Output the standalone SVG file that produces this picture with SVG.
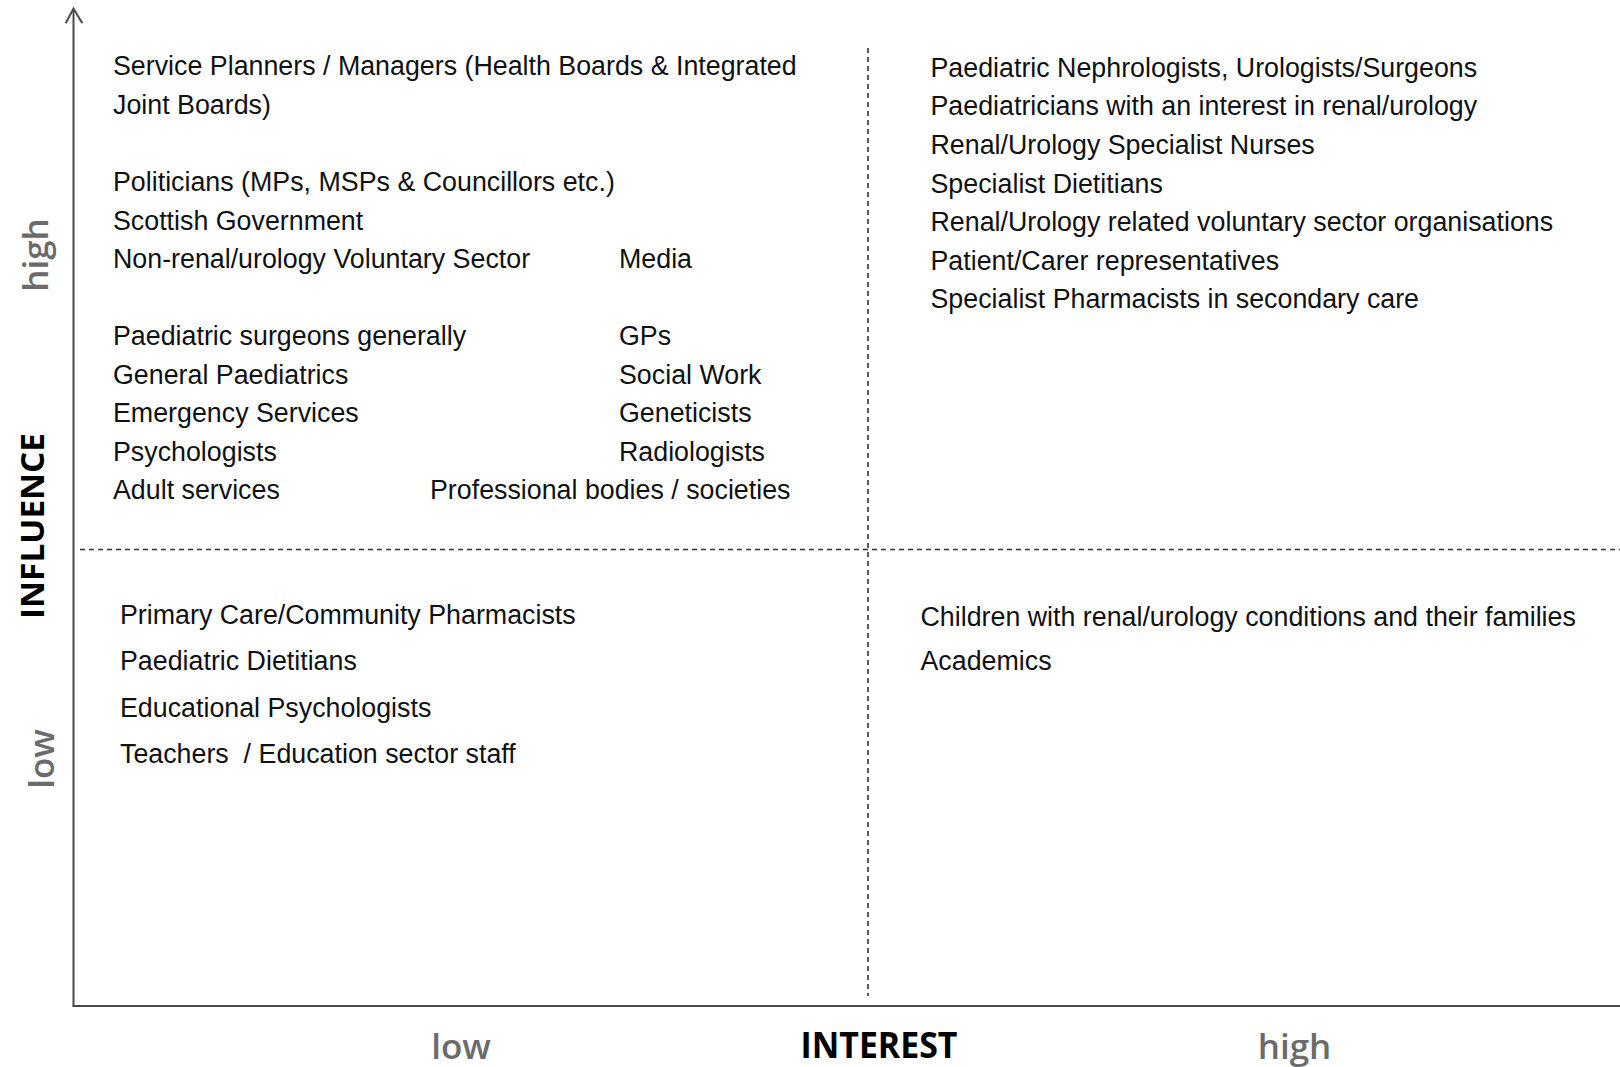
<svg xmlns="http://www.w3.org/2000/svg" width="1620" height="1067" viewBox="0 0 1620 1067">
  <style>
    .item { font-family: "Liberation Sans", Arial, sans-serif; font-size: 26.8px; fill: #111; }
    .tick { font-family: "Open Sans", "DejaVu Sans", sans-serif; font-size: 35px; font-weight: 600; fill: #6b6b6b; text-anchor: middle; }
    .title { font-family: "Open Sans", "DejaVu Sans", sans-serif; font-weight: 700; fill: #000; text-anchor: middle; }
    .axis { stroke: #4a4a4a; stroke-width: 2; fill: none; }
    .divider { stroke: #333; stroke-width: 1.6; stroke-dasharray: 5 4; fill: none; }
  </style>
  <rect width="1620" height="1067" fill="#fff"/>

  <!-- axes and quadrant dividers -->
  <g id="connectors">
    <line class="axis" x1="73.5" y1="9" x2="73.5" y2="1006"/>
    <polyline class="axis" stroke-width="1.6" points="65.7,23.3 73.5,8.5 82.3,23.3"/>
    <line class="axis" x1="72.5" y1="1006" x2="1620" y2="1006"/>
    <line class="divider" x1="868" y1="48" x2="868" y2="996"/>
    <line class="divider" x1="80" y1="549.5" x2="1620" y2="549.5"/>
  </g>

  <!-- axis labels -->
  <g id="axis-labels">
    <text class="tick" transform="translate(47.5,255) rotate(-90)">high</text>
    <text class="title" font-size="33" textLength="186" lengthAdjust="spacingAndGlyphs" transform="translate(44.3,526) rotate(-90)">INFLUENCE</text>
    <text class="tick" transform="translate(54,759) rotate(-90)">low</text>
    <text class="tick" x="461" y="1059">low</text>
    <text class="title" font-size="36" x="879" y="1058.3" textLength="157" lengthAdjust="spacingAndGlyphs">INTEREST</text>
    <text class="tick" x="1294.5" y="1058.5">high</text>
  </g>

  <!-- high influence, low interest -->
  <g id="quadrant-high-influence-low-interest">
    <text class="item" x="113" y="75">Service Planners / Managers (Health Boards &amp; Integrated</text>
    <text class="item" x="113" y="113.5">Joint Boards)</text>
    <text class="item" x="113" y="191">Politicians (MPs, MSPs &amp; Councillors etc.)</text>
    <text class="item" x="113" y="229.5">Scottish Government</text>
    <text class="item" x="113" y="268">Non-renal/urology Voluntary Sector</text>
    <text class="item" x="619" y="268">Media</text>
    <text class="item" x="113" y="345">Paediatric surgeons generally</text>
    <text class="item" x="619" y="345">GPs</text>
    <text class="item" x="113" y="383.5">General Paediatrics</text>
    <text class="item" x="619" y="383.5">Social Work</text>
    <text class="item" x="113" y="422">Emergency Services</text>
    <text class="item" x="619" y="422">Geneticists</text>
    <text class="item" x="113" y="460.5">Psychologists</text>
    <text class="item" x="619" y="460.5">Radiologists</text>
    <text class="item" x="113" y="499">Adult services</text>
    <text class="item" x="430" y="499">Professional bodies / societies</text>
  </g>

  <!-- high influence, high interest -->
  <g id="quadrant-high-influence-high-interest">
    <text class="item" x="930.5" y="76.7">Paediatric Nephrologists, Urologists/Surgeons</text>
    <text class="item" x="930.5" y="115.3">Paediatricians with an interest in renal/urology</text>
    <text class="item" x="930.5" y="154">Renal/Urology Specialist Nurses</text>
    <text class="item" x="930.5" y="192.5">Specialist Dietitians</text>
    <text class="item" x="930.5" y="231">Renal/Urology related voluntary sector organisations</text>
    <text class="item" x="930.5" y="269.5">Patient/Carer representatives</text>
    <text class="item" x="930.5" y="308">Specialist Pharmacists in secondary care</text>
  </g>

  <!-- low influence, low interest -->
  <g id="quadrant-low-influence-low-interest">
    <text class="item" x="120" y="624">Primary Care/Community Pharmacists</text>
    <text class="item" x="120" y="670.3">Paediatric Dietitians</text>
    <text class="item" x="120" y="716.6">Educational Psychologists</text>
    <text class="item" x="120" y="763" xml:space="preserve">Teachers  / Education sector staff</text>
  </g>

  <!-- low influence, high interest -->
  <g id="quadrant-low-influence-high-interest">
    <text class="item" x="920.5" y="625.5">Children with renal/urology conditions and their families</text>
    <text class="item" x="920.5" y="670">Academics</text>
  </g>
</svg>
